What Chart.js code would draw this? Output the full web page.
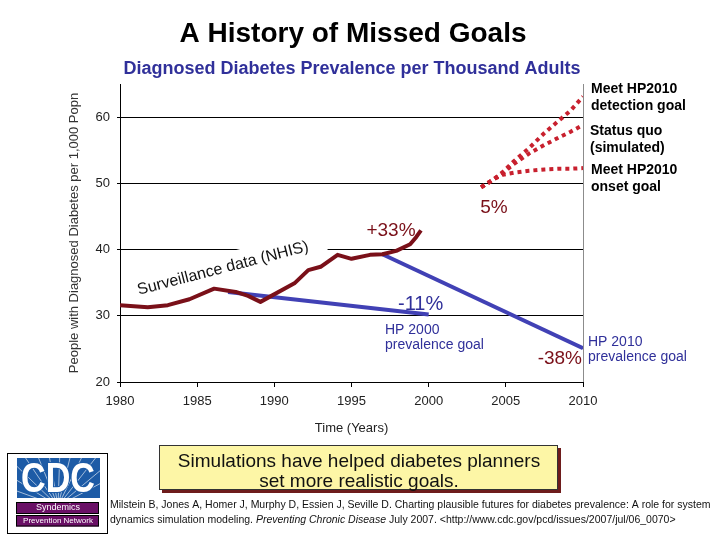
<!DOCTYPE html>
<html>
<head>
<meta charset="utf-8">
<title>A History of Missed Goals</title>
<script src="https://cdn.jsdelivr.net/npm/chart.js@4"></script>
<style>
  body { margin: 0; background: #fff; }
  canvas { display: block; }
</style>
</head>
<body>
<canvas id="goals" width="720" height="540"></canvas>
<script>
// Surveillance data (NHIS)
const survYears  = [1980, 1981.8, 1983.1, 1984.5, 1986.1, 1987.5, 1988.3, 1989.1, 1991.3, 1992.2, 1993, 1994.1, 1995, 1996.2, 1997, 1997.9, 1998.8, 1999.2, 1999.5];
const survValues = [31.6, 31.3, 31.6, 32.5, 34.1, 33.6, 33.0, 32.1, 34.9, 36.9, 37.4, 39.2, 38.6, 39.2, 39.3, 39.8, 40.8, 41.9, 42.9];

// Healthy People prevalence goals
const hp2000Years  = [1987, 2000];
const hp2000Values = [33.6, 30.2];
const hp2010Years  = [1997, 2010];
const hp2010Values = [39.3, 25.1];

// Simulated futures
const simYears      = [2003.4, 2003.8, 2004.2, 2004.8, 2005.5, 2006.5, 2007.5, 2008.5, 2009.2, 2010];
const detectionGoal = [49.4, 50.0, 50.6, 51.7, 53.3, 55.3, 57.6, 59.6, 61.0, 63.1];
const statusQuo     = [49.4, 50.0, 50.6, 51.5, 52.9, 54.5, 55.8, 57.0, 57.8, 58.8];
const onsetGoal     = [49.4, 50.0, 50.6, 51.3, 51.6, 51.9, 52.1, 52.2, 52.2, 52.3];

// Axis ticks
const xTicks = [1980, 1985, 1990, 1995, 2000, 2005, 2010];
const yTicks = [20, 30, 40, 50, 60];

const FONT = '"Liberation Sans", Arial, sans-serif';
Chart.defaults.font.family = FONT;

function pts(xs, ys) {
    return xs.map((x, i) => ({x: x, y: ys[i]}));
}

function text(ctx, s, x, y, font, color, align) {
    ctx.font = font;
    ctx.fillStyle = color;
    ctx.textAlign = align || 'left';
    ctx.textBaseline = 'middle';
    ctx.fillText(s, x, y);
}

/* Labels, boxes and logo around the chart. */
const notes = {
    id: 'notes',
    beforeDatasetsDraw(chart) {
        const ctx = chart.ctx;
        // rotated label sits on a white box that hides the grid line
        ctx.save();
        ctx.translate(223, 268.5);
        ctx.rotate(-14.5 * Math.PI / 180);
        ctx.fillStyle = '#fff';
        ctx.fillRect(-98, -14.6, 204, 26);
        text(ctx, 'Surveillance data (NHIS)', 0, 0, '16px ' + FONT, '#111', 'center');
        ctx.restore();
    },
    afterDraw(chart) {
        const ctx = chart.ctx;
        ctx.save();

        text(ctx, 'A History of Missed Goals', 353, 34, 'bold 28px ' + FONT, '#000', 'center');
        text(ctx, 'Diagnosed Diabetes Prevalence per Thousand Adults', 352, 69, 'bold 18px ' + FONT, '#30309a', 'center');

        // percentage notes
        text(ctx, '+33%', 391, 231, '19px ' + FONT, '#7a1019', 'center');
        text(ctx, '5%', 494, 208, '19px ' + FONT, '#7a1019', 'center');
        text(ctx, '-11%', 398, 304, '20px ' + FONT, '#30309a', 'left');
        text(ctx, '-38%', 582, 359, '19px ' + FONT, '#7a1019', 'right');

        // goal notes
        text(ctx, 'HP 2000', 385, 330, '14px ' + FONT, '#30309a');
        text(ctx, 'prevalence goal', 385, 345, '14px ' + FONT, '#30309a');
        text(ctx, 'HP 2010', 588, 342, '14px ' + FONT, '#30309a');
        text(ctx, 'prevalence goal', 588, 357, '14px ' + FONT, '#30309a');

        // simulated futures
        const b = 'bold 14px ' + FONT;
        text(ctx, 'Meet HP2010', 591, 89, b, '#000');
        text(ctx, 'detection goal', 591, 106, b, '#000');
        text(ctx, 'Status quo', 590, 131, b, '#000');
        text(ctx, '(simulated)', 590, 148, b, '#000');
        text(ctx, 'Meet HP2010', 591, 170, b, '#000');
        text(ctx, 'onset goal', 591, 187, b, '#000');

        // yellow call-out box
        ctx.fillStyle = '#6e1c1c';
        ctx.fillRect(162, 448, 399, 45);
        ctx.fillStyle = '#fdf6a6';
        ctx.fillRect(159, 445, 399, 45);
        ctx.strokeStyle = '#333';
        ctx.lineWidth = 1;
        ctx.strokeRect(159.5, 445.5, 398, 44);
        text(ctx, 'Simulations have helped diabetes planners', 359, 462, '19px ' + FONT, '#111', 'center');
        text(ctx, 'set more realistic goals.', 359, 482, '19px ' + FONT, '#111', 'center');

        // CDC logo
        ctx.strokeStyle = '#000';
        ctx.strokeRect(7.5, 453.5, 100, 80);
        ctx.fillStyle = '#1d5ba6';
        ctx.fillRect(17, 458, 83, 40);
        ctx.save();
        ctx.beginPath();
        ctx.rect(17, 458, 83, 40);
        ctx.clip();
        ctx.strokeStyle = 'rgba(255,255,255,0.75)';
        ctx.lineWidth = 0.8;
        for (let a = 200; a <= 340; a += 12) {
            const r = a * Math.PI / 180;
            ctx.beginPath();
            ctx.moveTo(58, 506);
            ctx.lineTo(58 + 90 * Math.cos(r), 506 + 90 * Math.sin(r));
            ctx.stroke();
        }
        ctx.restore();
        ctx.save();
        ctx.font = 'bold 42px ' + FONT;
        const w = ctx.measureText('CDC').width;
        ctx.translate(58, 479);
        ctx.scale(74 / w, 1);
        ctx.textAlign = 'center';
        ctx.textBaseline = 'middle';
        ctx.lineWidth = 2;
        ctx.strokeStyle = '#1d5ba6';
        ctx.strokeText('CDC', 0, 1);
        ctx.fillStyle = '#fff';
        ctx.fillText('CDC', 0, 1);
        ctx.restore();

        ctx.fillStyle = '#6a1066';
        ctx.fillRect(16, 502, 83, 12);
        ctx.fillRect(16, 515.5, 83, 11);
        ctx.strokeStyle = '#000';
        ctx.lineWidth = 1;
        ctx.strokeRect(16.5, 502.5, 82, 11);
        ctx.strokeRect(16.5, 515.5, 82, 10.5);
        text(ctx, 'Syndemics', 58, 508, '9px ' + FONT, '#fff', 'center');
        text(ctx, 'Prevention Network', 58, 521, '8px ' + FONT, '#fff', 'center');

        // citation
        const f = '10.5px ' + FONT;
        text(ctx, 'Milstein B, Jones A, Homer J, Murphy D, Essien J, Seville D. Charting plausible futures for diabetes prevalence: A role for system', 110, 505, f, '#111');
        let cx = 110;
        const part1 = 'dynamics simulation modeling. ';
        text(ctx, part1, cx, 520, f, '#111');
        cx += ctx.measureText(part1).width;
        const part2 = 'Preventing Chronic Disease';
        text(ctx, part2, cx, 520, 'italic ' + f, '#111');
        cx += ctx.measureText(part2).width;
        text(ctx, ' July 2007. <http://www.cdc.gov/pcd/issues/2007/jul/06_0070>', cx, 520, f, '#111');

        ctx.restore();
    }
};

const canvas = document.getElementById('goals');
const chart = new Chart(canvas, {
    type: 'line',
    data: {
        datasets: [
            {label: 'Surveillance data (NHIS)', data: pts(survYears, survValues), borderColor: '#7a1019', borderWidth: 4},
            {label: 'HP 2000 prevalence goal', data: pts(hp2000Years, hp2000Values), borderColor: '#4141b5', borderWidth: 4},
            {label: 'HP 2010 prevalence goal', data: pts(hp2010Years, hp2010Values), borderColor: '#4141b5', borderWidth: 4},
            {label: 'Meet HP2010 detection goal', data: pts(simYears, detectionGoal), borderColor: '#c8202e', borderWidth: 4, borderDash: [4, 4]},
            {label: 'Status quo (simulated)', data: pts(simYears, statusQuo), borderColor: '#c8202e', borderWidth: 4, borderDash: [4, 4]},
            {label: 'Meet HP2010 onset goal', data: pts(simYears, onsetGoal), borderColor: '#c8202e', borderWidth: 4, borderDash: [4, 4]}
        ]
    },
    options: {
        responsive: false,
        animation: false,
        layout: {padding: {left: 67, right: 137, top: 84, bottom: 104}},
        elements: {
            point: {radius: 0},
            line: {tension: 0, borderCapStyle: 'butt', borderJoinStyle: 'round', fill: false}
        },
        plugins: {legend: {display: false}, tooltip: {enabled: false}},
        scales: {
            x: {
                type: 'linear', min: 1980, max: 2010,
                afterBuildTicks: s => { s.ticks = xTicks.map(v => ({value: v})); },
                afterFit: s => { s.height = 54; },
                ticks: {callback: v => String(v), color: '#222', font: {size: 13}, padding: 7, maxRotation: 0},
                grid: {
                    color: c => (c.tick && c.tick.value === 2010) ? '#8c8c8c' : 'rgba(0,0,0,0)',
                    tickColor: '#000', tickLength: 5, lineWidth: 1
                },
                border: {color: '#000', width: 1},
                title: {display: true, text: 'Time (Years)', color: '#222', font: {size: 13}, padding: 0}
            },
            y: {
                type: 'linear', min: 20, max: 65,
                afterBuildTicks: s => { s.ticks = yTicks.map(v => ({value: v})); },
                afterFit: s => { s.width = 53; },
                ticks: {callback: v => String(v), color: '#222', font: {size: 13}, padding: 7},
                grid: {color: '#000', tickColor: '#000', tickLength: 3, lineWidth: 1},
                border: {color: '#000', width: 1},
                title: {display: true, text: 'People with Diagnosed Diabetes per 1,000 Popn', color: '#333', font: {size: 13}, padding: 0}
            }
        }
    },
    plugins: [notes]
});
</script>
</body>
</html>
